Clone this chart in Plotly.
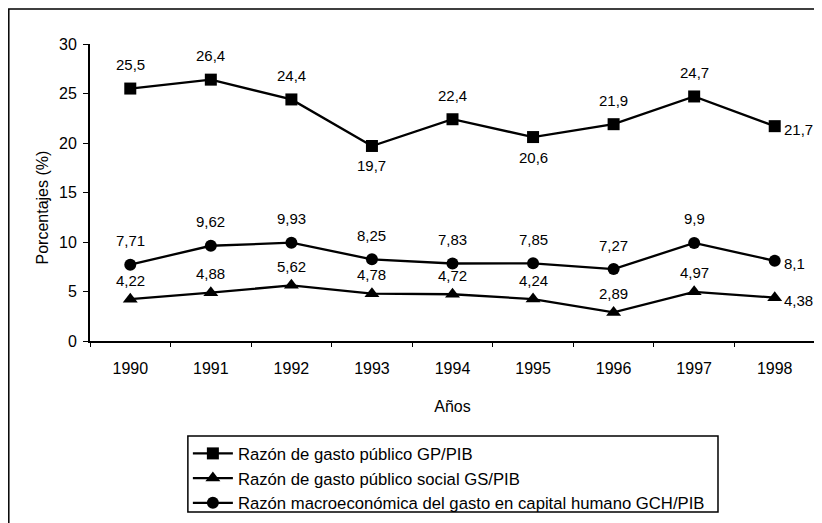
import plotly.graph_objects as go

years = ["1990", "1991", "1992", "1993", "1994", "1995", "1996", "1997", "1998"]
gp_pib = [25.5, 26.4, 24.4, 19.7, 22.4, 20.6, 21.9, 24.7, 21.7]
gs_pib = [4.22, 4.88, 5.62, 4.78, 4.72, 4.24, 2.89, 4.97, 4.38]
gch_pib = [7.71, 9.62, 9.93, 8.25, 7.83, 7.85, 7.27, 9.9, 8.1]

# label placement per point: "t" above, "b" below, "r" right
gp_pos = ["t", "t", "t", "b", "t", "b", "t", "t", "r"]
gs_pos = ["t"] * 8 + ["r"]
gch_pos = ["t"] * 8 + ["r"]

series_names = [
    "Razón de gasto público GP/PIB",
    "Razón de gasto público social GS/PIB",
    "Razón macroeconómica del gasto en capital humano GCH/PIB",
]

FONT = "Liberation Sans, Arial, sans-serif"


def lab(v):
    return f"{v:g}".replace(".", ",")


fig = go.Figure()
series = [
    (gp_pib, gp_pos, "square", 12, 24),
    (gs_pib, gs_pos, "triangle-up", 13, 19),
    (gch_pib, gch_pos, "circle", 12, 24),
]
for i, (vals, pos, sym, msize, up) in enumerate(series):
    fig.add_trace(go.Scatter(
        x=years, y=vals, mode="lines+markers",
        name=series_names[i], legendgroup=f"g{i}",
        line=dict(color="black", width=2.3),
        marker=dict(symbol=sym, size=msize, color="black"),
        cliponaxis=False,
    ))
    # annotations use the category index of each year on the category axis
    for k, (v, p) in enumerate(zip(vals, pos)):
        if p == "t":
            kw = dict(xanchor="center", yanchor="middle", yshift=up)
        elif p == "b":
            kw = dict(xanchor="center", yanchor="middle", yshift=-20)
        else:
            kw = dict(xanchor="left", yanchor="middle", xshift=7, yshift=-3)
        fig.add_annotation(
            x=k, y=v, text=lab(v), showarrow=False,
            font=dict(family=FONT, size=15, color="black"), **kw,
        )

# y axis title as a paper annotation (placed slightly below centre as in the original)
fig.add_annotation(
    xref="paper", yref="paper", x=-0.066, y=0.45, text="Porcentajes (%)",
    textangle=-90, showarrow=False, xanchor="center", yanchor="middle",
    font=dict(family=FONT, size=16, color="black"),
)

fig.update_layout(
    width=822, height=523,
    margin=dict(l=82, r=15, t=36, b=190, autoexpand=False),
    paper_bgcolor="white", plot_bgcolor="white",
    font=dict(family=FONT, size=15, color="black"),
    showlegend=True,
    legend=dict(
        x=0.135, y=-0.32, xanchor="left", yanchor="top",
        borderwidth=0, bgcolor="rgba(0,0,0,0)",
        font=dict(family=FONT, size=16.7, color="black"),
        itemwidth=40, tracegroupgap=0, traceorder="normal",
    ),
    xaxis=dict(
        type="category", categoryorder="array", categoryarray=years,
        range=[-0.5, len(years) - 0.5],
        tickson="boundaries", ticks="outside", ticklen=4, tickangle=0,
        tickcolor="black", showline=True, linecolor="black", linewidth=1.5,
        showgrid=False, zeroline=False, ticklabelstandoff=12,
        tickfont=dict(family=FONT, size=16),
        automargin=False,
        title=dict(text="Años", font=dict(family=FONT, size=16), standoff=25),
    ),
    yaxis=dict(
        range=[0, 30], dtick=5, ticks="outside", ticklen=5, tickcolor="black",
        showline=True, linecolor="black", linewidth=2, showgrid=False,
        zeroline=False, tickfont=dict(family=FONT, size=16), ticklabelstandoff=3,
        automargin=False,
    ),
    shapes=[
        # outer chart frame
        dict(type="rect", xref="paper", yref="paper",
             x0=-0.112, x1=1.2, y0=-0.8, y1=1.1178,
             line=dict(color="black", width=1.5), fillcolor="rgba(0,0,0,0)"),
        # legend box
        dict(type="rect", xref="paper", yref="paper",
             x0=0.135, x1=0.8662, y0=-0.5758, y1=-0.3199,
             line=dict(color="black", width=1.5), fillcolor="rgba(0,0,0,0)"),
    ],
)

fig.write_html("out.html")
